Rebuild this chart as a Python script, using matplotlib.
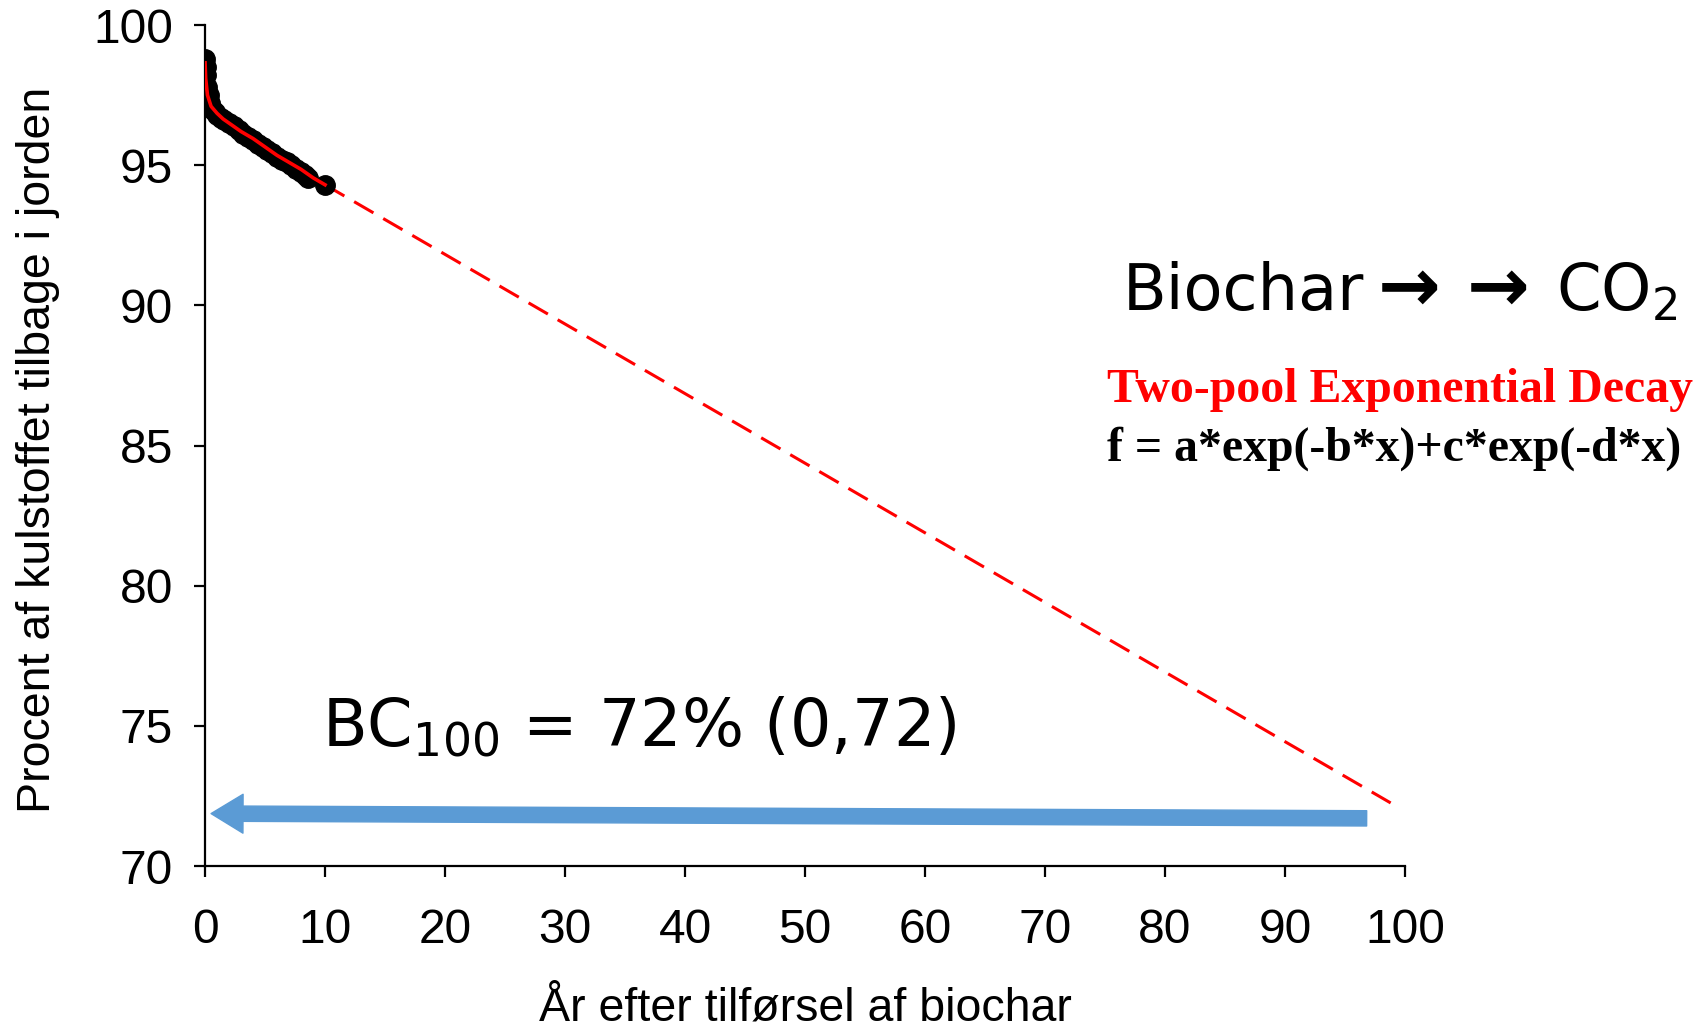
import matplotlib
matplotlib.use("Agg")
import matplotlib.pyplot as plt

# observed biochar carbon remaining (%), first 10 years
obs_years = [0, 0.05, 0.1, 0.2, 0.3, 0.45, 0.6, 0.8, 1.0, 1.3, 1.6, 2.0, 2.4, 2.8,
             3.2, 3.6, 4.0, 4.4, 4.8, 5.2, 5.6, 6.0, 6.4, 6.8, 7.2, 7.6, 8.0, 8.3, 8.6, 10]
obs_values = [98.8, 98.5, 98.2, 97.8, 97.5, 97.2, 97.0, 96.9, 96.8, 96.7, 96.6, 96.5, 96.4, 96.25,
              96.1, 96.0, 95.9, 95.75, 95.65, 95.55, 95.45, 95.3, 95.2, 95.1, 95.0, 94.85, 94.75, 94.65, 94.55, 94.3]

# two-pool fit
fit_years = [0, 0.05, 0.2, 0.5, 1.0, 1.5, 2, 3, 4, 5, 6, 7, 8, 9, 10]
fit_values = [98.65, 98.1, 97.5, 97.1, 96.85, 96.65, 96.5, 96.2, 95.95, 95.65, 95.35, 95.1, 94.85, 94.55, 94.3]

# extrapolation to 100 years
ext_years = [10, 98.8]
ext_values = [94.3, 72.25]

# arrow showing BC100
arrow_from = (96.8, 71.7)
arrow_to = (0.5, 71.87)

x_ticks = list(range(0, 101, 10))
y_ticks = list(range(70, 101, 5))

fig = plt.figure(figsize=(17.06, 10.29), dpi=100)
ax = fig.add_axes([0.1202, 0.1584, 0.7034, 0.8173])

ax.plot(obs_years, obs_values, 'o', color='black', markersize=14, zorder=3)
ax.plot(fit_years, fit_values, color='red', lw=2.6, zorder=4)
ax.plot(ext_years, ext_values, color='red', lw=2.2, dashes=(7.3, 3.7), zorder=2)

ax.annotate('', xy=arrow_to, xytext=arrow_from,
            arrowprops=dict(arrowstyle='simple,head_width=28,head_length=23,tail_width=11',
                            color='#5B9BD5', mutation_scale=1, shrinkA=0, shrinkB=0))

ax.set_xlim(0, 100)
ax.set_ylim(70, 100)
ax.set_xticks(x_ticks)
ax.set_yticks(y_ticks)
ax.spines['top'].set_visible(False)
ax.spines['right'].set_visible(False)
for s in ['left', 'bottom']:
    ax.spines[s].set_linewidth(1.6)
ax.tick_params(axis='both', direction='out', length=8, width=1.6, labelsize=34.5)
ax.tick_params(axis='x', pad=22)
ax.tick_params(axis='y', pad=15)
for lab in ax.get_xticklabels() + ax.get_yticklabels():
    lab.set_family('Liberation Sans')

fig.text(0.472, 0.020, 'År efter tilførsel af biochar', fontsize=33.5,
         family='Liberation Sans', ha='center', va='center')
fig.text(0.022, 0.563, 'Procent af kulstoffet tilbage i jorden', fontsize=33.5,
         family='Liberation Sans', ha='center', va='center', rotation=90)

# Biochar -> -> CO2, arrows drawn a bit heavier
fig.text(0.658, 0.716, 'Biochar', fontsize=46, family='DejaVu Sans', ha='left', va='center')
fig.text(0.808, 0.718, '→ →', fontsize=54, family='DejaVu Sans', weight='bold',
         ha='left', va='center')
fig.text(0.912, 0.716, 'CO$_2$', fontsize=46, family='DejaVu Sans', ha='left', va='center')

fig.text(0.649, 0.621, 'Two-pool Exponential Decay', fontsize=34.4, family='Liberation Serif',
         weight='bold', color='red', ha='left', va='center')
fig.text(0.649, 0.564, 'f = a*exp(-b*x)+c*exp(-d*x)', fontsize=34.4, family='Liberation Serif',
         weight='bold', color='black', ha='left', va='center')
fig.text(0.189, 0.292, 'BC$_{100}$ = 72% (0,72)', fontsize=47, family='DejaVu Sans',
         ha='left', va='center')

fig.savefig('out.png', dpi=100)
